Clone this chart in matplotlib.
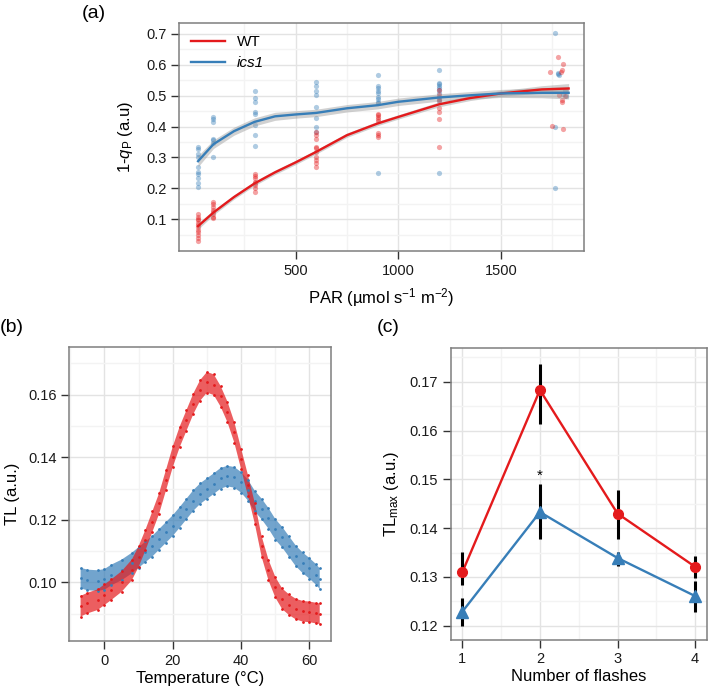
import matplotlib
matplotlib.use("Agg")
import matplotlib.pyplot as plt
import numpy as np

plt.rcParams['font.family'] = ['Liberation Sans', 'DejaVu Sans']
plt.rcParams['mathtext.fontset'] = 'custom'
plt.rcParams['mathtext.rm'] = 'Liberation Sans'
plt.rcParams['mathtext.it'] = 'Liberation Sans:italic'

RED = '#e41a1c'
BLUE = '#377eb8'

# ---- (a) 1-qP vs PAR ----
par_levels = [25, 100, 300, 600, 900, 1200]
wt_pts = [
    [0.116, 0.108, 0.100, 0.097, 0.088, 0.083, 0.076, 0.067, 0.059, 0.049, 0.041, 0.029],
    [0.156, 0.148, 0.139, 0.131, 0.123, 0.116, 0.108, 0.103],
    [0.248, 0.240, 0.232, 0.222, 0.216, 0.211, 0.200, 0.189],
    [0.383, 0.372, 0.359, 0.335, 0.330, 0.319, 0.303, 0.292, 0.281, 0.270],
    [0.442, 0.437, 0.431, 0.423, 0.418, 0.378, 0.372, 0.365],
    [0.518, 0.502, 0.486, 0.459, 0.448, 0.423, 0.334],
]
ics_pts = [
    [0.334, 0.327, 0.311, 0.302, 0.270, 0.253, 0.248, 0.232, 0.216, 0.205],
    [0.431, 0.424, 0.415, 0.361, 0.356, 0.347, 0.302],
    [0.516, 0.491, 0.480, 0.448, 0.442, 0.405, 0.372, 0.337],
    [0.545, 0.531, 0.516, 0.502, 0.464, 0.429, 0.399, 0.383],
    [0.566, 0.531, 0.523, 0.516, 0.507, 0.496, 0.489, 0.480, 0.475, 0.250],
    [0.582, 0.541, 0.536, 0.531, 0.523, 0.518, 0.507, 0.496, 0.489, 0.483, 0.250],
]
# highest light level (jittered in x)
wt_hi_par = [1777, 1801, 1798, 1791, 1741, 1785, 1796, 1799, 1748, 1801, 1810]
wt_hi_val = [0.626, 0.601, 0.583, 0.575, 0.575, 0.502, 0.486, 0.480, 0.402, 0.392, 0.500]
ics_hi_par = [1764, 1777, 1780, 1782, 1814, 1819, 1762, 1762, 1805]
ics_hi_val = [0.704, 0.574, 0.570, 0.568, 0.518, 0.500, 0.399, 0.200, 0.505]

# fitted curves and half width of the grey band
fit_par = [25, 100, 200, 300, 400, 500, 600, 750, 900, 1000, 1200, 1350, 1500, 1700, 1830]
wt_fit = [0.078, 0.122, 0.172, 0.216, 0.252, 0.284, 0.318, 0.372, 0.410, 0.431, 0.472, 0.492,
          0.507, 0.520, 0.523]
wt_se = [0.010, 0.008, 0.007, 0.007, 0.007, 0.007, 0.007, 0.007, 0.007, 0.007, 0.008, 0.008,
         0.009, 0.012, 0.016]
ics_fit = [0.288, 0.343, 0.385, 0.415, 0.433, 0.439, 0.444, 0.459, 0.469, 0.480, 0.494, 0.501,
           0.507, 0.509, 0.509]
ics_se = [0.018, 0.014, 0.013, 0.013, 0.013, 0.012, 0.012, 0.012, 0.012, 0.012, 0.012, 0.012,
          0.013, 0.016, 0.020]

# ---- (b) thermoluminescence glow curves ----
temp = [-7, -5, -2, 0, 2, 5, 8, 10, 12, 14, 16, 18, 20, 22, 24, 26, 28, 30, 32, 34, 36, 38,
        40, 42, 44, 46, 48, 50, 52, 54, 56, 58, 60, 62, 63]
tl_wt = [0.0924, 0.0934, 0.0945, 0.0961, 0.0977, 0.1003, 0.1040, 0.1083, 0.1136, 0.1194,
         0.1253, 0.1327, 0.1402, 0.1465, 0.1518, 0.1571, 0.1614, 0.1640, 0.1632, 0.1595,
         0.1545, 0.1480, 0.1395, 0.1310, 0.1221, 0.1115, 0.1040, 0.0985, 0.0948, 0.0929,
         0.0915, 0.0908, 0.0906, 0.0902, 0.0900]
tl_ics = [0.1014, 0.1008, 0.1006, 0.1010, 0.1024, 0.1040, 0.1062, 0.1080, 0.1098, 0.1116,
          0.1138, 0.1160, 0.1182, 0.1208, 0.1235, 0.1262, 0.1284, 0.1300, 0.1316, 0.1333,
          0.1340, 0.1336, 0.1320, 0.1295, 0.1260, 0.1235, 0.1205, 0.1170, 0.1145, 0.1115,
          0.1085, 0.1063, 0.1045, 0.1025, 0.1012]
tl_spread = 0.0033

# ---- (c) TLmax vs number of flashes ----
flashes = [1, 2, 3, 4]
tlmax_wt = [0.1310, 0.1683, 0.1430, 0.1321]
tlmax_wt_lo = [0.1284, 0.1614, 0.1378, 0.1298]
tlmax_wt_hi = [0.1352, 0.1737, 0.1479, 0.1344]
tlmax_ics = [0.1229, 0.1433, 0.1339, 0.1261]
tlmax_ics_lo = [0.1199, 0.1377, 0.1323, 0.1229]
tlmax_ics_hi = [0.1257, 0.1490, 0.1352, 0.1291]


def style(ax, xmaj, xmin, ymaj, ymin):
    ax.set_xticks(xmaj)
    ax.set_xticks(xmin, minor=True)
    ax.set_yticks(ymaj)
    ax.set_yticks(ymin, minor=True)
    ax.grid(which='major', color='#e3e3e3', lw=1.0)
    ax.grid(which='minor', color='#f3f3f3', lw=1.0)
    ax.set_axisbelow(True)
    for s in ax.spines.values():
        s.set_color('#7f7f7f')
        s.set_linewidth(1.1)
    ax.tick_params(which='major', direction='out', length=6, width=1, color='#333333',
                   labelsize=10.5, labelcolor='#1a1a1a', pad=3)
    ax.tick_params(which='minor', length=0)


fig = plt.figure(figsize=(7.08, 6.9), dpi=100)

# (a)
ax = fig.add_axes([0.2528, 0.6362, 0.5721, 0.3304])
style(ax, [500, 1000, 1500], [250, 750, 1250, 1750],
      [0.1, 0.2, 0.3, 0.4, 0.5, 0.6, 0.7], np.arange(0.05, 0.75, 0.1))
for p, vals in zip(par_levels, ics_pts):
    ax.scatter([p] * len(vals), vals, s=14, color=BLUE, alpha=0.4, lw=0, zorder=2)
for p, vals in zip(par_levels, wt_pts):
    ax.scatter([p] * len(vals), vals, s=14, color=RED, alpha=0.4, lw=0, zorder=2)
ax.scatter(ics_hi_par, ics_hi_val, s=14, color=BLUE, alpha=0.4, lw=0, zorder=2)
ax.scatter(wt_hi_par, wt_hi_val, s=14, color=RED, alpha=0.4, lw=0, zorder=2)
fp = np.array(fit_par)
ax.fill_between(fp, np.array(ics_fit) - ics_se, np.array(ics_fit) + ics_se,
                color='#999999', alpha=0.45, lw=0, zorder=3)
ax.fill_between(fp, np.array(wt_fit) - wt_se, np.array(wt_fit) + wt_se,
                color='#999999', alpha=0.45, lw=0, zorder=3)
ax.plot(fp, wt_fit, color=RED, lw=1.7, label='WT', zorder=4)
ax.plot(fp, ics_fit, color=BLUE, lw=1.7, label='ics1', zorder=4)
ax.set_xlim(-68, 1905)
ax.set_ylim(-0.0025, 0.7346)
ax.set_xlabel(r'PAR (µmol s$^\mathregular{-1}$ m$^\mathregular{-2}$)', fontsize=12, labelpad=6)
ax.set_ylabel(r'1-$\mathit{q}_\mathregular{P}$ (a.u)', fontsize=12, labelpad=8)
leg = ax.legend(loc='upper left', frameon=False, fontsize=11, handlelength=2.2,
                borderaxespad=0.2, labelspacing=0.45, borderpad=0.6)
leg.get_texts()[1].set_fontstyle('italic')
fig.text(0.116, 0.993, '(a)', fontsize=14, va='top', ha='left')

# (b)
ax = fig.add_axes([0.0979, 0.0706, 0.3696, 0.4262])
style(ax, [0, 20, 40, 60], [-10, 10, 30, 50],
      [0.10, 0.12, 0.14, 0.16], [0.09, 0.11, 0.13, 0.15, 0.17])
t = np.array(temp)
for vals, c in [(tl_ics, BLUE), (tl_wt, RED)]:
    v = np.array(vals)
    ax.fill_between(t, v - tl_spread, v + tl_spread, facecolor=c, alpha=0.7, lw=0)
    ax.plot(t, v - tl_spread, 'o', ms=2.0, color=c, mew=0)
    ax.plot(t, v + tl_spread, 'o', ms=2.0, color=c, mew=0)
    ax.plot(t, v, 'o', ms=2.0, color=c, mew=0)
ax.set_xlim(-10.3, 66.3)
ax.set_ylim(0.0812, 0.1752)
ax.yaxis.set_major_formatter(matplotlib.ticker.FormatStrFormatter('%.2f'))
ax.set_xlabel('Temperature (°C)', fontsize=12, labelpad=2)
ax.set_ylabel('TL (a.u.)', fontsize=12, labelpad=6)
fig.text(0.0, 0.526, '(b)', fontsize=14, va='center', ha='left')

# (c)
ax = fig.add_axes([0.6366, 0.0725, 0.3616, 0.4238])
style(ax, [1, 2, 3, 4], [1.5, 2.5, 3.5],
      [0.12, 0.13, 0.14, 0.15, 0.16, 0.17], np.arange(0.115, 0.18, 0.01))
ax.vlines(flashes, tlmax_wt_lo, tlmax_wt_hi, color='black', lw=2.2, zorder=3)
ax.vlines(flashes, tlmax_ics_lo, tlmax_ics_hi, color='black', lw=2.2, zorder=3)
ax.plot(flashes, tlmax_wt, color=RED, lw=1.7, zorder=2)
ax.plot(flashes, tlmax_ics, color=BLUE, lw=1.7, zorder=2)
ax.plot(flashes, tlmax_wt, 'o', ms=7, color=RED, zorder=4)
ax.plot(flashes, tlmax_ics, '^', ms=8, color=BLUE, zorder=4)
ax.text(2, 0.1508, '*', ha='center', va='center', fontsize=11)
ax.set_xlim(0.85, 4.15)
ax.set_ylim(0.1171, 0.177)
ax.set_xlabel('Number of flashes', fontsize=12, labelpad=2)
ax.set_ylabel(r'TL$_\mathregular{max}$ (a.u.)', fontsize=12, labelpad=6)
fig.text(0.532, 0.526, '(c)', fontsize=14, va='center', ha='left')

fig.savefig('out.png', dpi=100)
